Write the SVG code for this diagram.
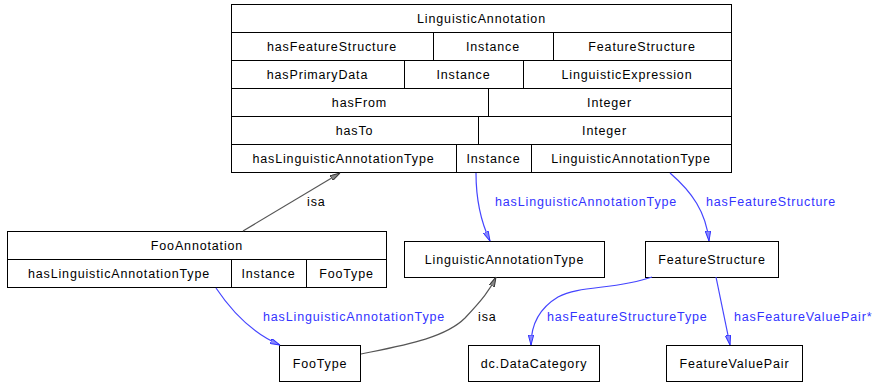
<svg xmlns="http://www.w3.org/2000/svg" width="878" height="385" viewBox="0 0 878 385">
<defs>
<style>
.box{fill:#fff;stroke:#000;stroke-width:1}
.ln{stroke:#000;stroke-width:1;fill:none}
text{font-family:"Liberation Sans",Arial,sans-serif;font-size:12.5px;letter-spacing:0.85px;fill:#000}
.t{text-anchor:middle}
.bl{fill:#3333ff}
.eb{fill:none;stroke:#4444ff;stroke-width:1.2}
.eg{fill:none;stroke:#555;stroke-width:1.2}
</style>
<marker id="ab" viewBox="0 0 10 6" refX="10" refY="3" markerWidth="10" markerHeight="6" markerUnits="userSpaceOnUse" orient="auto">
<path d="M0,0.3 L10,3 L0,5.7 Z" fill="#8888ff" stroke="#3333ff" stroke-width="1"/>
</marker>
<marker id="ag" viewBox="0 0 10 6" refX="10" refY="3" markerWidth="10" markerHeight="6" markerUnits="userSpaceOnUse" orient="auto">
<path d="M0,0.3 L10,3 L0,5.7 Z" fill="#888" stroke="#333" stroke-width="1"/>
</marker>
</defs>
<rect width="878" height="385" fill="#fff"/>

<g id="LinguisticAnnotation">
<rect class="box" x="231.5" y="4.5" width="500" height="168"/>
<path class="ln" d="M231.5,32.5H731.5M231.5,60.5H731.5M231.5,88.5H731.5M231.5,116.5H731.5M231.5,144.5H731.5"/>
<path class="ln" d="M433.5,32.5V60.5M553.5,32.5V60.5M404.5,60.5V88.5M523.5,60.5V88.5M488.5,88.5V116.5M478.5,116.5V144.5M456.5,144.5V172.5M531.5,144.5V172.5"/>
<text class="t" x="481.5" y="22.5">LinguisticAnnotation</text>
<text class="t" x="332" y="50.5">hasFeatureStructure</text>
<text class="t" x="493" y="50.5">Instance</text>
<text class="t" x="642" y="50.5">FeatureStructure</text>
<text class="t" x="317.5" y="78.5">hasPrimaryData</text>
<text class="t" x="463.5" y="78.5">Instance</text>
<text class="t" x="627" y="78.5">LinguisticExpression</text>
<text class="t" x="359.5" y="106.5">hasFrom</text>
<text class="t" x="609.5" y="106.5">Integer</text>
<text class="t" x="354.5" y="134.5">hasTo</text>
<text class="t" x="604.5" y="134.5">Integer</text>
<text class="t" x="343.5" y="162.5">hasLinguisticAnnotationType</text>
<text class="t" x="493.5" y="162.5">Instance</text>
<text class="t" x="631" y="162.5">LinguisticAnnotationType</text>
</g>

<g id="FooAnnotation">
<rect class="box" x="7.5" y="231.5" width="379" height="56"/>
<path class="ln" d="M7.5,259.5H386.5M231.5,259.5V287.5M306.5,259.5V287.5"/>
<text class="t" x="197" y="249.5">FooAnnotation</text>
<text class="t" x="119" y="277.5">hasLinguisticAnnotationType</text>
<text class="t" x="268.5" y="277.5">Instance</text>
<text class="t" x="346.5" y="277.5">FooType</text>
</g>

<g id="LinguisticAnnotationType">
<rect class="box" x="404.5" y="241.5" width="200" height="36"/>
<text class="t" x="504.5" y="263.5">LinguisticAnnotationType</text>
</g>

<g id="FeatureStructure">
<rect class="box" x="645.5" y="241.5" width="133" height="36"/>
<text class="t" x="712" y="263.5">FeatureStructure</text>
</g>

<g id="FooType">
<rect class="box" x="279.5" y="345.5" width="81" height="36"/>
<text class="t" x="320" y="367.5">FooType</text>
</g>

<g id="dc.DataCategory">
<rect class="box" x="468.5" y="345.5" width="131" height="36"/>
<text class="t" x="534" y="367.5">dc.DataCategory</text>
</g>

<g id="FeatureValuePair">
<rect class="box" x="666.5" y="345.5" width="136" height="36"/>
<text class="t" x="734.5" y="367.5">FeatureValuePair</text>
</g>

<g id="connectors">
<path class="eg" d="M243,231 L340,173" marker-end="url(#ag)"/>
<text x="307" y="206">isa</text>
<path class="eb" d="M476,173 C476,200 481,222 490,241" marker-end="url(#ab)"/>
<text class="bl" x="495" y="206">hasLinguisticAnnotationType</text>
<path class="eb" d="M670,173 C692,192 706,212 709,241" marker-end="url(#ab)"/>
<text class="bl" x="706" y="206">hasFeatureStructure</text>
<path class="eb" d="M216,288 C232,312 252,333 280,345" marker-end="url(#ab)"/>
<text class="bl" x="263" y="321">hasLinguisticAnnotationType</text>
<path class="eg" d="M361,354 C405,345 445,338 465,318 C482,300 490,290 496,277" marker-end="url(#ag)"/>
<text x="478" y="321">isa</text>
<path class="eb" d="M652,277 C615,290 580,285 558,297 C538,309 531,325 531,345" marker-end="url(#ab)"/>
<text class="bl" x="547" y="321">hasFeatureStructureType</text>
<path class="eb" d="M716,277 L730,345" marker-end="url(#ab)"/>
<text class="bl" x="734" y="321">hasFeatureValuePair*</text>
</g>
</svg>
